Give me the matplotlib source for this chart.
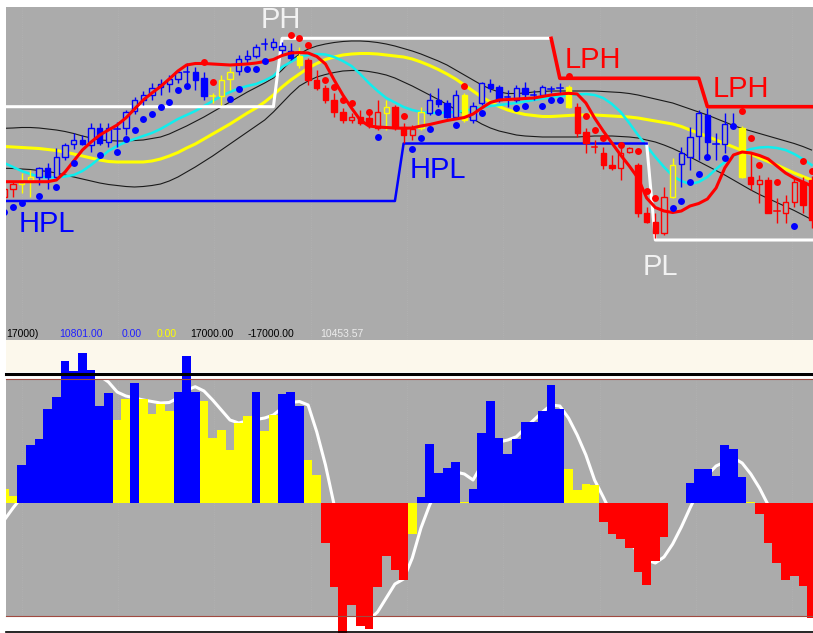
import matplotlib
matplotlib.use('Agg')
import matplotlib.pyplot as plt
from matplotlib.patches import Rectangle
from matplotlib.lines import Line2D
import numpy as np

plt.rcParams['font.family'] = ['Liberation Sans', 'DejaVu Sans']

# bar index -1 .. 92 (first bar is cut by the left edge)
bars = np.arange(-1, 93)

# ---- price panel -------------------------------------------------------
opens = [143, 150.7, 156, 160, 162.7, 171.7, 162.7, 182.7, 196, 200,
         195, 211.7, 198.3, 211.5, 211.7, 229, 240, 245, 252.7, 255.7,
         260.7, 268, 268.3, 261.7, 244, 244, 260.7, 269, 280.7, 284,
         296, 293.3, 290, 289.3, 284, 280, 260, 251.7, 240, 228.3,
         220, 223.3, 222, 211.7, 227.3, 232.7, 213.3, 205, 211.7, 227.3,
         240, 236.7, 223.3, 245, 220, 236.7, 256, 252.7, 243.3, 240,
         251.7, 245, 245, 251, 251.7, 252.7, 232.7, 208.3, 192.7, 187.3,
         175, 171.7, 188.3, 175, 127.3, 118.3, 106.7, 143.3, 176, 183.3,
         204, 225, 196, 196, 214, 211.7, 163.3, 156, 160, 129,
         127.3, 138.3, 158.3, 160]
highs = [154, 158.3, 167, 170, 173.3, 176.7, 191.7, 196.7, 207.3, 205,
         216.7, 216.7, 217.3, 218.3, 230, 243, 249.3, 257.3, 260.7, 265,
         270, 276.7, 273.3, 268.3, 247, 265, 273.3, 285, 290, 296,
         301.7, 301.7, 298, 296.7, 293.3, 281.7, 270, 255, 246.7, 231.7,
         226.7, 230, 225, 240, 240, 235, 216.7, 215, 233.3, 246.7,
         251.7, 240, 250, 247, 238.3, 258.3, 260.7, 255, 250, 255,
         258.3, 250, 255, 254, 256.7, 255, 236.7, 211.7, 200, 192.7,
         185, 191.7, 193, 176.7, 133.3, 126.7, 153.3, 181.7, 193.3, 213.3,
         230, 231.7, 206.7, 226.7, 226.7, 214, 186.7, 165, 163.3, 141.7,
         145, 163.3, 163.3, 164]
lows = [140, 143.3, 147, 143.3, 155, 150.7, 161.7, 180, 190.7, 195,
        188.3, 195, 192.7, 193.3, 205, 226, 235, 240, 245, 248.3,
        256.7, 256.7, 250, 240, 237, 235, 250, 265, 276.7, 281.7,
        290, 290, 286, 280, 271.7, 255, 250, 236.7, 223.3, 216.7,
        216.7, 215, 212, 210, 210, 210, 197, 200, 210, 225,
        233.3, 221.7, 221.7, 218, 216.7, 235, 248.3, 238.3, 233.3, 238.3,
        243.3, 240, 243.3, 246.7, 246.7, 232, 203.3, 186.7, 187.3, 170.7,
        170, 160, 187, 123.3, 116.7, 101.7, 105, 141.7, 153.3, 170,
        180, 180, 180, 186.7, 211.7, 162, 150, 137, 126.7, 116.7,
        116.7, 133.3, 126.7, 112]
closes = [151, 156, 159.3, 163.3, 171.7, 163.3, 182.7, 195.3, 200, 196,
          211.7, 196.7, 211.7, 212, 228.3, 240, 245, 252.3, 256, 260.7,
          268.3, 268.5, 260, 244, 244.5, 260, 268.3, 280.7, 284, 293.3,
          296.3, 298.3, 294, 281.7, 275, 260, 251.7, 240, 228.3, 220,
          223.3, 216.7, 216, 228.3, 232.7, 211.7, 205, 210.7, 228.3, 240,
          236, 223.3, 245, 220, 234, 256.7, 251.7, 240, 243.6, 251.7,
          245.7, 245.3, 252.7, 251.3, 252, 232.7, 206.7, 196.7, 192.5, 175,
          171.7, 187.3, 191.7, 126.7, 118.3, 106.7, 143.3, 175, 187.3, 203.3,
          227.3, 198, 196.3, 216, 214.3, 163.3, 156, 160, 127.3, 128.7,
          138.3, 158.3, 135, 120]
candle_colors = ("rr" "yy" "bbbbbbbbbbbbbbbbbbbb" "yyy" "bbbbbbb" "y"
                 "rrrrrrrrr" "y" "rrr" "y" "bbbb" "y" "bbbbbbbbbbb" "y"
                 "rrrrrrrrrrr" "y" "bbbbbbb" "y" "rrrrrrrr")

trail_red = [158.3, 158.3, 158.3, 158.3, 158.3, 158.3, 160, 168, 179, 190,
             198, 205, 210, 215, 222, 231, 240, 247, 253.5, 261,
             269, 275, 276.5, 276.5, 276, 275.5, 275, 275.5, 276, 277,
             278.5, 280.5, 284.5, 287, 287.5, 287, 283.5, 276, 260, 245,
             232, 220, 214, 213, 212.5, 212, 211.7, 212, 214, 215.5,
             217.5, 219.5, 221, 222.5, 226, 232, 237.5, 240, 240.5, 241,
             241.5, 242, 243.5, 245, 246, 246.7, 246, 237, 222, 209,
             197, 185, 174, 162, 142, 132.5, 129, 127.5, 129, 134,
             136.5, 141, 152, 172, 185, 188, 187, 184.5, 181, 174,
             167, 162, 158, 154]
ma_cyan = [177, 173, 169, 166, 163.5, 162.5, 162.5, 163.5, 165, 169,
           175, 182, 189, 194, 198, 201, 204, 207, 211, 216,
           221, 225, 229, 234, 239, 244, 248, 251.5, 254, 256,
           259.5, 264, 273, 278, 283, 285, 286, 285.5, 283, 279,
           274, 266, 257, 249, 242, 237.5, 233, 230, 228, 227,
           227, 227.5, 228, 229, 231, 232.5, 234, 235, 236, 237,
           238.5, 240, 241.5, 242.5, 243.5, 244.5, 245.5, 246, 245, 242,
           236, 228, 217, 205, 194, 183, 173, 164, 159, 156,
           158, 163, 171, 178, 184, 188, 191, 192.5, 193, 192,
           190, 186, 181, 175]
ma_yellow = [193.5, 193, 192.5, 192, 191.5, 190.5, 189.5, 188, 186, 184,
             182, 180, 178.5, 178, 178, 178, 178, 179, 181, 184,
             187.5, 192, 196, 201, 206, 211, 216, 221.5, 227, 232,
             238, 245, 253, 260, 266, 272, 276.5, 280.5, 283, 285,
             286, 286.5, 286.5, 286, 285, 284, 283, 281, 278, 274.5,
             270.5, 266, 261, 255, 249, 243, 238, 233.5, 230, 227.5,
             225.5, 224.5, 223.5, 223.5, 224, 224.5, 225, 225, 225, 224.5,
             224, 223.5, 223, 222, 220.5, 219, 217.5, 216, 213.5, 210,
             207, 203.5, 200, 196.5, 193, 189.5, 186, 182, 178.5, 175,
             171, 167, 163.5, 160]
band_upper = [211.7, 212, 212.5, 212.5, 212, 211, 210, 208.5, 206.5, 204,
              202, 200, 199.5, 199, 199, 199.5, 200, 201.5, 203, 206,
              210, 214, 218.5, 223, 228, 233, 238, 243, 248, 252.5,
              257, 262, 270, 279, 286, 291, 294, 296, 297.5, 298.5,
              299, 299, 298.5, 297.5, 296, 294, 291.5, 289, 286, 282.5,
              279, 275, 270, 265, 260, 255, 251, 248, 246.5, 246.5,
              247, 248, 248.5, 249, 249, 249, 249, 249, 249, 248.5,
              248, 247.5, 246.5, 245, 243, 241, 239, 237, 234, 231,
              228, 225, 221.5, 218, 214.5, 211.5, 209, 206.5, 204, 201.5,
              199, 196.5, 193.5, 190]
band_lower = [171.7, 171.5, 171, 170.5, 169.5, 168.5, 167, 165, 163, 161,
              159, 157, 155.5, 154.5, 153.5, 153, 153.5, 154.5, 156, 159,
              163, 168, 173, 178.5, 184, 190, 196, 202, 208, 214,
              220, 228, 237, 246, 254, 259, 263, 265.5, 267.5, 269,
              269.5, 269.5, 268.5, 267, 265, 262, 258, 254, 249.5, 245,
              240.5, 235.5, 230.5, 226, 221, 216, 212, 209, 207, 205,
              204, 203.5, 203, 203, 203, 203, 203, 203.5, 204, 204,
              204, 203.5, 203, 202, 200, 198, 195, 191.5, 187.5, 183,
              178.5, 174, 169.5, 165, 160, 155, 150, 145.5, 141.5, 137.5,
              133.5, 129.5, 125, 120.5]

blue_dot_bars = [-1, 0, 1, 3, 5, 7, 10, 12, 13, 14, 15, 16, 17, 18, 19, 20,
                 25, 26, 27, 28, 29, 42, 46, 47, 48, 49, 51, 54, 58, 59, 61,
                 62, 63, 76, 77, 78, 79, 80, 82, 83, 90]
blue_dot_vals = [128.3, 133.3, 136.7, 144, 152.7, 176.7, 185, 188.3, 201, 210,
                 221, 225.7, 233, 238.3, 250.3, 254, 241.3, 251, 271.3, 271.3,
                 279.5, 203.3, 191.3, 202.3, 211.5, 228, 215, 227, 231.7, 234.5,
                 234, 240, 240, 131.7, 139.3, 158.3, 166.3, 183, 182.5, 214,
                 114.5]
red_dot_bars = [22, 23, 32, 33, 34, 36, 37, 38, 39, 41, 45, 52, 64, 66, 67,
                68, 70, 72, 73, 74, 84, 85, 86, 88, 91, 92]
red_dot_vals = [277.7, 258.2, 305.5, 302.5, 295, 260, 253.3, 240.5, 236.7,
                228.3, 224, 254, 264, 224, 210, 202.5, 195, 189.3, 149.3,
                141.7, 229.5, 202, 175, 158.3, 179, 169]

# pivot levels (vertices of the step lines)
ph_x, ph_y = [-1, 30, 31, 62], [233.3, 233.3, 301.7, 301.7]
lph_x, lph_y = [62, 63, 79, 80, 92.5], [301.7, 261.7, 261.7, 233.3, 233.3]
hpl_x, hpl_y = [-1, 44, 45, 73], [139, 139, 196.5, 196.5]
pl_x, pl_y = [73, 74, 92.5], [196.5, 100, 100]

# ---- oscillator panel --------------------------------------------------
hist = [1960, 1020, 5320, 8120, 9000, 13160, 14840, 19880, 18520, 21080,
        18660, 13660, 15400, 11660, 14560, 16800, 14560, 12500, 13900, 12960,
        15580, 20620, 15580, 14280, 9140, 10220, 7460, 11280, 12220, 15580,
        10160, 12320, 15260, 15580, 13660, 6060, 3960, -5520, -11680, -19500,
        -14240, -17180, -17640, -11680, -7380, -9340, -10740, -4340, 920, 8260,
        4280, 4980, 5820, 140, 2000, 9800, 14320, 9100, 6900, 8960,
        11380, 11380, 12960, 16600, 13240, 4760, 1820, 2700, 2520, -2620,
        -4300, -5000, -6300, -9580, -11440, -8080, -4760, 100, 100, 2880,
        4800, 4800, 3820, 8120, 7600, 3680, 140, -1500, -5520, -8320,
        -10740, -10140, -11540, -16100]
hist_colors = ("yy" "bbbbbbbbbbb" "yy" "b" "yyyy" "bbb" "yyyyyy" "b" "yy"
               "bbb" "yy" "rrrrrrrrrr" "y" "bbbbb" "y" "bbbbbbbbbbb" "yyyy"
               "rrrrrrrr" "bbbbbbbbb" "y" "rrrrrrr")
signal = [-2340, -660, 880, 2560, 4660, 6760, 9140, 11660, 14040, 15860,
          17540, 17820, 16980, 15580, 15020, 14740, 14460, 14250, 14040, 14110,
          14740, 15860, 16320, 15720, 14460, 13060, 11660, 11240, 11520, 11730,
          11940, 12360, 13340, 14110, 14250, 13760, 9980, 5360, -240, -6540,
          -11440, -14660, -16340, -15220, -13260, -11300, -10600, -7660, -3460, -240,
          2140, 3680, 4380, 4100, 3260, 5360, 7460, 8580, 8860, 9320,
          10540, 11660, 12780, 13760, 13620, 11940, 9560, 6760, 3260, 880,
          -1640, -3740, -5420, -6820, -7940, -8360, -7520, -5700, -3320, -660,
          1860, 3960, 5220, 5780, 6340, 5640, 4100, 2140, -240, -3020,
          -5840, -7940, -10040, -12140]

info_texts = ["17000)", "10801.00", "0.00", "0.00", "17000.00", "-17000.00", "10453.57"]
info_colors = ["#000000", "#2020ff", "#2020ff", "#ffff00", "#000000", "#000000", "#ececec"]
info_pos = [0.0, 0.0657, 0.1437, 0.1871, 0.228, 0.2999, 0.3891]

GRAY = "#ababab"
CREAM = "#fcf8ec"
BROWN = "#a04a40"
PAL = {"r": "#ff0000", "y": "#ffff00", "b": "#0000ff"}

W, H = 813, 633
fig = plt.figure(figsize=(W / 100, H / 100), dpi=100, facecolor="white")


def box(x0, y0, x1, y1):
    # pixel box measured from the top-left -> figure fraction rect
    return [x0 / W, 1 - y1 / H, (x1 - x0) / W, (y1 - y0) / H]


def hline(y, color, lw):
    fig.add_artist(Line2D([6 / W, 1], [1 - y / H] * 2, transform=fig.transFigure,
                          color=color, lw=lw, zorder=3))


ax = fig.add_axes(box(6, 7, 813, 340), facecolor=GRAY)
ax2 = fig.add_axes(box(6, 379, 813, 616), facecolor=GRAY)
for a in (ax, ax2):
    a.set_xlim(-0.806, 92.166)
    a.set_xticks([])
    a.set_yticks([])
    for s in a.spines.values():
        s.set_visible(False)
    for gx in np.arange(1, 93, 11.1):
        a.axvline(gx, color="#b3b3b3", lw=0.6, ls=":", zorder=0.5)
ax.set_ylim(0, 333)
ax2.set_ylim(-15780, 17400)

# bands and averages
ax.plot(bars, band_upper, color="#1a1a1a", lw=0.8, zorder=1)
ax.plot(bars, band_lower, color="#1a1a1a", lw=0.8, zorder=1)
ax.plot(bars, ma_yellow, color="#ffff00", lw=2.2, zorder=2)
ax.plot(bars, ma_cyan, color="#10eeee", lw=1.8, zorder=2)

# pivot step lines
ax.plot(ph_x, ph_y, color="white", lw=2.2, zorder=3)
ax.plot(pl_x, pl_y, color="white", lw=2.2, zorder=3)
ax.plot(hpl_x, hpl_y, color="#0000ff", lw=1.8, zorder=3)
ax.plot(lph_x, lph_y, color="#ff0000", lw=2.6, zorder=3)

# candles
half = 0.31
for x, o, h, l, c, k in zip(bars, opens, highs, lows, closes, candle_colors):
    col = PAL[k]
    ax.plot([x, x], [l, h], color=col, lw=1.0, zorder=4, solid_capstyle="butt")
    if abs(c - o) < 1:
        ax.plot([x - half, x + half], [o, o], color=col, lw=1.1, zorder=4)
    elif c > o:
        ax.add_patch(Rectangle((x - half, o), 2 * half, c - o, facecolor=GRAY,
                               edgecolor=col, lw=1.0, zorder=4))
    else:
        ax.add_patch(Rectangle((x - half, c), 2 * half, o - c, facecolor=col,
                               edgecolor=col, lw=1.0, zorder=4))

ax.plot(bars, trail_red, color="#ff0000", lw=2.2, zorder=5)
ax.plot(blue_dot_bars, blue_dot_vals, "o", color="#0000ff", ms=5, mec="none", zorder=6)
ax.plot(red_dot_bars, red_dot_vals, "o", color="#ff0000", ms=5, mec="none", zorder=6)

lab = dict(fontsize=21, va="baseline", ha="left", zorder=7)
ax.text(28.5, 311.5, "PH", color="#f2f2f2", **lab)
ax.text(0.6, 108.4, "HPL", color="#0000ff", **lab)
ax.text(45.65, 161.7, "HPL", color="#0000ff", **lab)
ax.text(63.6, 271.7, "LPH", color="#ff0000", **lab)
ax.text(80.6, 243.3, "LPH", color="#ff0000", **lab)
ax.text(72.5, 65, "PL", color="#f2f2f2", **lab)

for s, col, px in zip(info_texts, info_colors, info_pos):
    ax.text(px, 0.018, s, color=col, fontsize=7.5, transform=ax.transAxes,
            ha="left", va="center")

# oscillator: bars may run past the panel into the margins
clip = Rectangle((6 / W, 0), 807 / W, (633 - 340) / H, transform=fig.transFigure)
fig.add_artist(Rectangle((6 / W, 1 - 372 / H), 807 / W, 32 / H,
                         transform=fig.transFigure, facecolor=CREAM,
                         edgecolor="none", zorder=-1))
# signal line sits behind the histogram
sig, = ax2.plot(bars, signal, color="white", lw=2.2, zorder=1)
sig.set_clip_path(clip)
bc = ax2.bar(bars, hist, width=1.0, color=[PAL[k] for k in hist_colors],
             linewidth=0, zorder=2)
for p in bc:
    p.set_clip_path(clip)

hline(373.5, "black", 2.2)
hline(379, BROWN, 0.8)
hline(616, BROWN, 0.8)
hline(632, "black", 1.2)

fig.savefig("out.png", dpi=100, facecolor="white")
